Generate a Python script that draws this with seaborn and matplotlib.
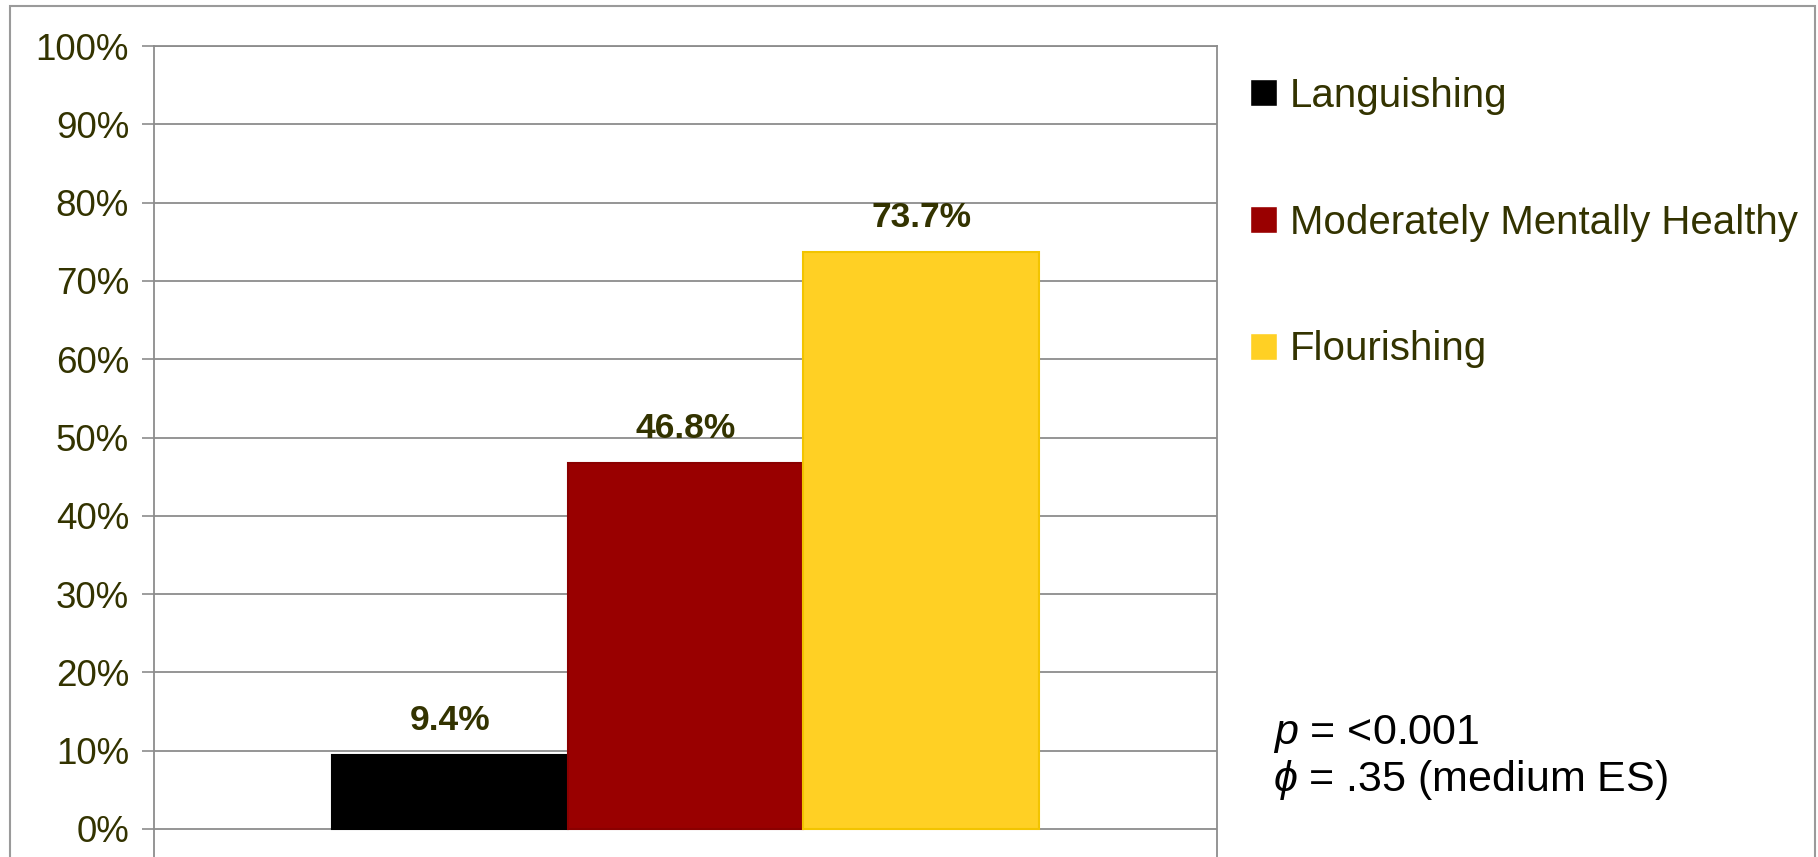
import numpy as np
import pandas as pd
import matplotlib
matplotlib.use("Agg")  # headless backend
import matplotlib.pyplot as plt
from matplotlib.patches import Rectangle
from matplotlib.ticker import PercentFormatter
import seaborn as sns

# ---------- data ----------
groups = ["All", "All", "All"]
statuses = ["Languishing", "Moderately Mentally Healthy", "Flourishing"]
shares = [0.094, 0.468, 0.737]
bar_labels = ["9.4%", "46.8%", "73.7%"]
y_ticks = [0.0, 0.1, 0.2, 0.3, 0.4, 0.5, 0.6, 0.7, 0.8, 0.9, 1.0]

fills = ["#000000", "#990000", "#FFD024"]
edges = ["#000000", "#8a0000", "#F2C400"]

df = pd.DataFrame({"group": groups, "status": statuses, "share": shares})

# ---------- style ----------
sns.set_style("white")
plt.rcParams["font.family"] = ["Liberation Sans", "DejaVu Sans"]
plt.rcParams["mathtext.fontset"] = "custom"
plt.rcParams["mathtext.it"] = "Liberation Sans:italic"
plt.rcParams["mathtext.rm"] = "Liberation Sans"

olive = "#333300"
grid_c = "#8c8c8c"

W, H = 1818, 857
fig = plt.figure(figsize=(W / 100, H / 100), dpi=100)
fig.patch.set_facecolor("white")

# axes box: left 154px, right 1217px, 100% at y=46px, 0% at y=829px
ymin = -0.06
top_px, zero_px = 46, 829
bottom_px = zero_px + (-ymin) * (zero_px - top_px)
ax = fig.add_axes([154 / W, 1 - bottom_px / H, (1217 - 154) / W, (bottom_px - top_px) / H])

sns.barplot(data=df, x="group", y="share", hue="status", palette=fills,
            width=0.665, dodge=True, ax=ax, saturation=1)

for p, ec in zip(ax.patches[:3], edges):
    p.set_edgecolor(ec)
    p.set_linewidth(1.5)

for cont, lab in zip(ax.containers, bar_labels):
    ax.bar_label(cont, labels=[lab], padding=13, fontsize=25.5, fontweight="bold",
                 color=olive)

ax.set_ylim(ymin, 1.0)
ax.set_xlim(-0.5, 0.5)
ax.set_yticks(y_ticks)
ax.yaxis.set_major_formatter(PercentFormatter(1.0, decimals=0))
ax.set_xticks([])
ax.set_xlabel("")
ax.set_ylabel("")
ax.tick_params(axis="y", which="major", left=True, length=9, width=1.2, color=grid_c,
               labelsize=26.5, labelcolor=olive, pad=9)
ax.yaxis.grid(True, color=grid_c, linewidth=1.3)
ax.set_axisbelow(True)
for side in ["left", "top", "right"]:
    ax.spines[side].set_color(grid_c)
    ax.spines[side].set_linewidth(1.3)
ax.spines["bottom"].set_visible(False)

# ---------- legend ----------
handles, labels = ax.get_legend_handles_labels()
leg = ax.legend(handles, labels, loc="upper left",
                bbox_to_anchor=(1250 / W, 1 - 77 / H), bbox_transform=fig.transFigure,
                frameon=False, handlelength=0.66, handleheight=0.66,
                handletextpad=0.33, labelspacing=2.2, borderpad=0, borderaxespad=0,
                prop={"size": 29})
for t in leg.get_texts():
    t.set_color(olive)

# ---------- stats note ----------
fig.text(1273 / W, 1 - 744 / H, r"$p$ = <0.001", fontsize=31, color="black", va="baseline")
fig.text(1273 / W, 1 - 791 / H, r"$\phi$ = .35 (medium ES)", fontsize=31, color="black", va="baseline")

# ---------- outer frame ----------
fig.patches.append(Rectangle((10 / W, -0.1), (1815 - 10) / W, 1.1 - 6 / H,
                             transform=fig.transFigure, fill=False,
                             edgecolor="#9a9a9a", linewidth=1.5, clip_on=False))

plt.savefig("out.png", dpi=100)
plt.close("all")
